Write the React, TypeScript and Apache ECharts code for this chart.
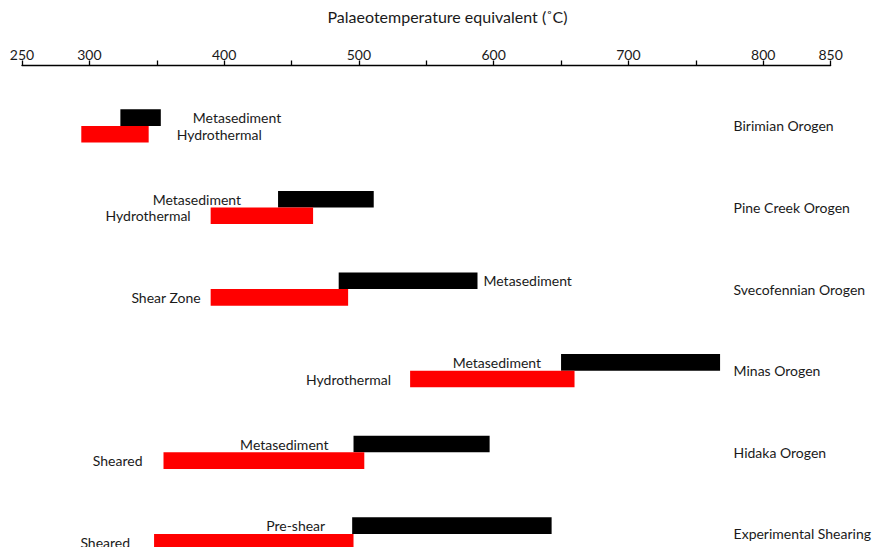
import React, { useEffect, useRef } from "react";
import * as echarts from "echarts";

// Rows, top to bottom
const orogens = [
  "Birimian Orogen",
  "Pine Creek Orogen",
  "Svecofennian Orogen",
  "Minas Orogen",
  "Hidaka Orogen",
  "Experimental Shearing",
];

// Upper (black) bars: protolith / reference temperature ranges (°C)
const upperLabels = ["Metasediment", "Metasediment", "Metasediment", "Metasediment", "Metasediment", "Pre-shear"];
const upperStart = [323, 440, 485, 650, 496, 495];
const upperEnd = [353, 511, 588, 768, 597, 643];

// Lower (red) bars: altered / deformed temperature ranges (°C)
const lowerLabels = ["Hydrothermal", "Hydrothermal", "Shear Zone", "Hydrothermal", "Sheared", "Sheared"];
const lowerStart = [294, 390, 390, 538, 355, 348];
const lowerEnd = [344, 466, 492, 660, 504, 496];

// Axis tick labels that are printed
const tickLabels = [250, 300, 400, 500, 600, 700, 800, 850];

// Where each bar's caption sits: side of the bar and gap in px
const upperLabelSide = ["right", "left", "right", "left", "left", "left"];
const upperLabelGap = [32, 37, 6, 20, 25, 27];
const lowerLabelSide = ["right", "left", "left", "left", "left", "left"];
const lowerLabelGap = [28, 20, 10, 19, 21, 24];

const FONT = "Lato, 'Open Sans', sans-serif";
const TEXT = "#1a1a1a";
const BAR_H = 16.6;

function makeRenderer(
  labels: string[],
  sides: string[],
  gaps: number[],
  color: string,
  upper: boolean
) {
  return (params: any, api: any) => {
    const row = api.value(0);
    const a = api.coord([api.value(1), row]);
    const b = api.coord([api.value(2), row]);
    const cy = a[1];
    const y0 = upper ? cy - BAR_H : cy;
    const i = params.dataIndex;
    const side = sides[i];
    const tx = side === "right" ? b[0] + gaps[i] : a[0] - gaps[i];
    return {
      type: "group",
      children: [
        {
          type: "rect",
          shape: { x: a[0], y: y0, width: b[0] - a[0], height: BAR_H },
          style: { fill: color },
        },
        {
          type: "text",
          style: {
            text: labels[i],
            x: tx,
            y: y0 + BAR_H / 2,
            align: side === "right" ? "left" : "right",
            verticalAlign: "middle",
            fill: TEXT,
            fontSize: 14,
            fontFamily: FONT,
          },
        },
      ],
    };
  };
}

export default function App() {
  const ref = useRef<HTMLDivElement>(null);

  useEffect(() => {
    if (!ref.current) return;
    const chart = echarts.init(ref.current, undefined, { renderer: "svg" });

    const upperData = orogens.map((_, i) => [i, upperStart[i], upperEnd[i]]);
    const lowerData = orogens.map((_, i) => [i, lowerStart[i], lowerEnd[i]]);

    chart.setOption({
      animation: false,
      backgroundColor: "#ffffff",
      grid: { left: 22, right: 36.7, top: 85.1, height: 489.6, containLabel: false },
      graphic: [
        {
          type: "text",
          x: 447.5,
          y: 16,
          style: {
            text: "Palaeotemperature equivalent (˚C)",
            align: "center",
            verticalAlign: "middle",
            fill: TEXT,
            fontSize: 16,
            fontFamily: FONT,
          },
        },
      ],
      xAxis: {
        type: "value",
        position: "top",
        offset: 19.6,
        min: 250,
        max: 850,
        interval: 50,
        axisLine: { show: true, lineStyle: { color: "#000", width: 1.3 } },
        axisTick: { show: true, length: 5, lineStyle: { color: "#000", width: 1.3 } },
        splitLine: { show: false },
        axisLabel: {
          margin: 4,
          color: TEXT,
          fontSize: 14,
          fontFamily: FONT,
          showMinLabel: true,
          showMaxLabel: true,
          formatter: (v: number) => (tickLabels.includes(v) ? String(v) : ""),
        },
      },
      yAxis: {
        type: "category",
        inverse: true,
        position: "right",
        data: orogens,
        axisLine: { show: false },
        axisTick: { show: false },
        splitLine: { show: false },
        axisLabel: {
          margin: -97,
          align: "left",
          color: TEXT,
          fontSize: 14,
          fontFamily: FONT,
        },
      },
      series: [
        {
          type: "custom",
          name: "Upper",
          data: upperData,
          encode: { x: [1, 2], y: 0 },
          renderItem: makeRenderer(upperLabels, upperLabelSide, upperLabelGap, "#000000", true),
        },
        {
          type: "custom",
          name: "Lower",
          data: lowerData,
          encode: { x: [1, 2], y: 0 },
          renderItem: makeRenderer(lowerLabels, lowerLabelSide, lowerLabelGap, "#ff0000", false),
        },
      ],
    });

    return () => chart.dispose();
  }, []);

  // The plot runs past the bottom edge of the visible frame, as the last row is cut off there
  return (
    <div
      style={{
        position: "fixed",
        left: 0,
        top: 0,
        width: 874,
        height: 547,
        overflow: "hidden",
        background: "#fff",
      }}
    >
      <div ref={ref} style={{ width: 874, height: 600 }} />
    </div>
  );
}
